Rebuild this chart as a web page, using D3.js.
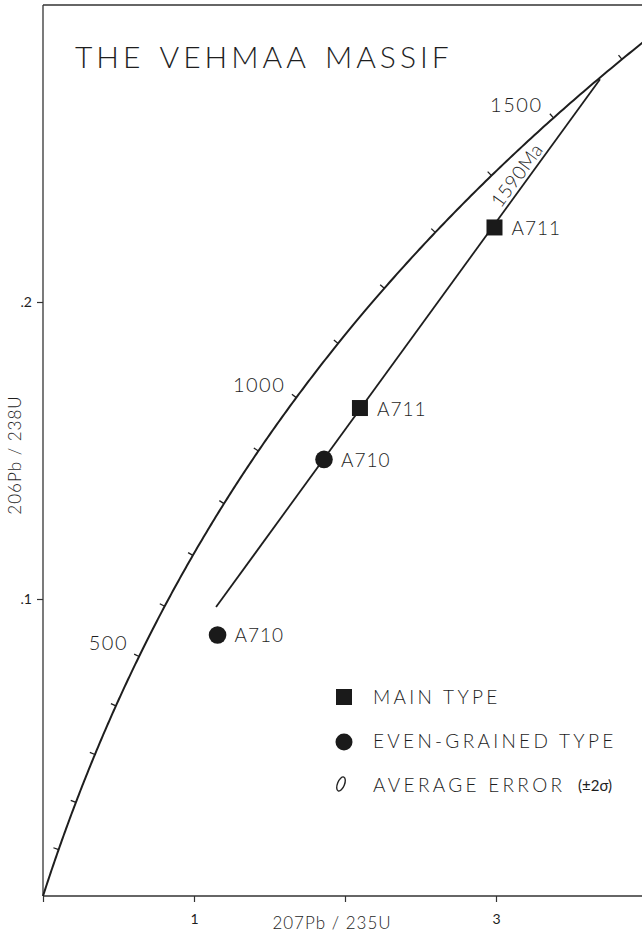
<!DOCTYPE html>
<html>
<head>
<meta charset="utf-8">
<script src="https://cdn.jsdelivr.net/npm/d3@7"></script>
<style>
  body { margin: 0; background: #fff; }
  svg text { font-family: "Lato", "DejaVu Sans", sans-serif; font-weight: 300; fill: #1e1e1e; }
</style>
</head>
<body>
<div id="chart"></div>
<script>
// decay constants (per year)
var lambda238 = 1.55125e-10,
    lambda235 = 9.8485e-10;

// concordia ticks every 100 Ma, labelled ages
var tickAges = [100, 200, 300, 400, 500, 600, 700, 800, 900, 1000, 1100, 1200, 1300, 1400, 1500, 1600];
var labelAges = [500, 1000, 1500];

// samples: 207Pb/235U, 206Pb/238U
var sampleNames = ["A711", "A711", "A710", "A710"];
var sampleTypes = ["main", "main", "even", "even"];
var sampleX = [2.990, 2.099, 1.861, 1.156];
var sampleY = [0.2251, 0.1643, 0.1470, 0.0879];

// discordia end points
var discordiaX = [1.146, 3.689];
var discordiaY = [0.0973, 0.2750];
var upperAge = "1590Ma";

var xTicks = [0, 1, 2, 3];
var xTickLabels = ["", "1", "", "3"];
var yTicks = [0.1, 0.2];
var yTickLabels = [".1", ".2"];

var legendLabels = ["MAIN TYPE", "EVEN-GRAINED TYPE", "AVERAGE ERROR"];

var width = 642, height = 935;

var svg = d3.select("#chart").append("svg")
    .attr("width", width)
    .attr("height", height);

var x = d3.scaleLinear().domain([0, 4]).range([43, 647]);
var y = d3.scaleLinear().domain([0, 0.3]).range([896, 5]);

function concordia(t) {
    return [Math.exp(lambda235 * t * 1e6) - 1, Math.exp(lambda238 * t * 1e6) - 1];
}

// frame: left axis, bottom axis, top line
var frame = svg.append("g").attr("stroke", "#333").attr("stroke-width", 1.3).attr("fill", "none");
frame.append("line").attr("x1", x(0)).attr("x2", x(0)).attr("y1", y(0.3)).attr("y2", y(0));
frame.append("line").attr("x1", x(0)).attr("x2", width).attr("y1", y(0)).attr("y2", y(0));
frame.append("line").attr("x1", x(0)).attr("x2", width).attr("y1", y(0.3)).attr("y2", y(0.3));

// axes ticks
var xAxis = d3.axisBottom(x).tickValues(xTicks).tickSize(6).tickPadding(12)
    .tickFormat(function (d, i) { return xTickLabels[i]; });
var gx = svg.append("g").attr("transform", "translate(0," + y(0) + ")").call(xAxis);
gx.select(".domain").remove();
gx.selectAll("line").attr("stroke", "#333").attr("stroke-width", 1.2);
gx.selectAll("text").style("font-size", "14px").style("font-family", "Lato").style("font-weight", 400).attr("fill", "#333");

var yAxis = d3.axisLeft(y).tickValues(yTicks).tickSize(6).tickPadding(5)
    .tickFormat(function (d, i) { return yTickLabels[i]; });
var gy = svg.append("g").attr("transform", "translate(" + x(0) + ",0)").call(yAxis);
gy.select(".domain").remove();
gy.selectAll("line").attr("stroke", "#333").attr("stroke-width", 1.2);
gy.selectAll("text").style("font-size", "14px").style("font-family", "Lato").style("font-weight", 400).attr("fill", "#333");

// axis titles
svg.append("text")
    .attr("x", 332).attr("y", 929)
    .attr("text-anchor", "middle")
    .style("font-size", "17px")
    .style("letter-spacing", "1px")
    .text("207Pb / 235U");

svg.append("text")
    .attr("transform", "translate(21,455) rotate(-90)")
    .attr("text-anchor", "middle")
    .style("font-size", "17px")
    .style("letter-spacing", "1px")
    .text("206Pb / 238U");

// title
svg.append("text")
    .attr("x", 75).attr("y", 68)
    .style("font-size", "30px")
    .style("letter-spacing", "4px")
    .style("word-spacing", "4px")
    .text("THE VEHMAA MASSIF");

// concordia curve
var curveAges = d3.range(0, 1701, 5);
var line = d3.line()
    .x(function (d) { return x(concordia(d)[0]); })
    .y(function (d) { return y(concordia(d)[1]); });

svg.append("path")
    .datum(curveAges)
    .attr("d", line)
    .attr("fill", "none")
    .attr("stroke", "#1e1e1e")
    .attr("stroke-width", 2);

// age ticks on the concordia (on the upper-left side)
svg.append("g").selectAll("line")
    .data(tickAges)
    .join("line")
    .each(function (t) {
        var a = concordia(t - 1), b = concordia(t + 1), c = concordia(t);
        var dx = x(b[0]) - x(a[0]), dy = y(b[1]) - y(a[1]);
        var len = Math.sqrt(dx * dx + dy * dy);
        var nx = dy / len, ny = -dx / len;
        d3.select(this)
            .attr("x1", x(c[0])).attr("y1", y(c[1]))
            .attr("x2", x(c[0]) + nx * 5.5).attr("y2", y(c[1]) + ny * 5.5);
    })
    .attr("stroke", "#1e1e1e")
    .attr("stroke-width", 1.3);

svg.append("g").selectAll("text")
    .data(labelAges)
    .join("text")
    .attr("x", function (t) { return x(concordia(t)[0]) - 11; })
    .attr("y", function (t) { return y(concordia(t)[1]) - 6; })
    .attr("text-anchor", "end")
    .style("font-size", "20px")
    .style("letter-spacing", "1.5px")
    .text(function (t) { return t; });

// discordia
var d0 = [x(discordiaX[0]), y(discordiaY[0])],
    d1 = [x(discordiaX[1]), y(discordiaY[1])];
svg.append("line")
    .attr("x1", d0[0]).attr("y1", d0[1])
    .attr("x2", d1[0]).attr("y2", d1[1])
    .attr("stroke", "#1e1e1e")
    .attr("stroke-width", 1.8);

var ang = Math.atan2(d1[1] - d0[1], d1[0] - d0[0]);
var f = 0.75;
var lx = d0[0] + (d1[0] - d0[0]) * f + Math.sin(ang) * 4,
    ly = d0[1] + (d1[1] - d0[1]) * f - Math.cos(ang) * 4;
svg.append("text")
    .attr("transform", "translate(" + lx + "," + ly + ") rotate(" + (ang * 180 / Math.PI) + ")")
    .style("font-size", "19px")
    .style("letter-spacing", "0.5px")
    .text(upperAge);

// samples
var samples = sampleNames.map(function (n, i) {
    return { name: n, type: sampleTypes[i], x: sampleX[i], y: sampleY[i] };
});

var pts = svg.append("g").selectAll("g")
    .data(samples)
    .join("g")
    .attr("transform", function (d) { return "translate(" + x(d.x) + "," + y(d.y) + ")"; });

pts.filter(function (d) { return d.type === "main"; })
    .append("rect")
    .attr("x", -8).attr("y", -8).attr("width", 16).attr("height", 16)
    .attr("fill", "#1a1a1a");

pts.filter(function (d) { return d.type === "even"; })
    .append("circle")
    .attr("r", 8.8)
    .attr("fill", "#1a1a1a");

pts.append("text")
    .attr("x", 17).attr("y", 7.5)
    .style("font-size", "19px")
    .style("letter-spacing", "1px")
    .text(function (d) { return d.name; });

// legend
var legend = svg.append("g").attr("transform", "translate(344,697)");
legend.append("rect").attr("x", -8).attr("y", -8).attr("width", 16).attr("height", 16).attr("fill", "#1a1a1a");
legend.append("circle").attr("cx", 0).attr("cy", 45).attr("r", 8.5).attr("fill", "#1a1a1a");
legend.append("ellipse").attr("cx", -3).attr("cy", 87).attr("rx", 3.5).attr("ry", 7.5)
    .attr("transform", "rotate(22,-3,87)")
    .attr("fill", "none").attr("stroke", "#222").attr("stroke-width", 1.4);

legend.selectAll("text.lab")
    .data(legendLabels)
    .join("text")
    .attr("class", "lab")
    .attr("x", 29)
    .attr("y", function (d, i) { return i * 44 + 7; })
    .style("font-size", "19px")
    .style("letter-spacing", "3.3px")
    .text(function (d) { return d; });

legend.append("text")
    .attr("x", 234).attr("y", 94)
    .style("font-size", "15px")
    .style("font-weight", 400)
    .text("(±2σ)");
</script>
</body>
</html>
